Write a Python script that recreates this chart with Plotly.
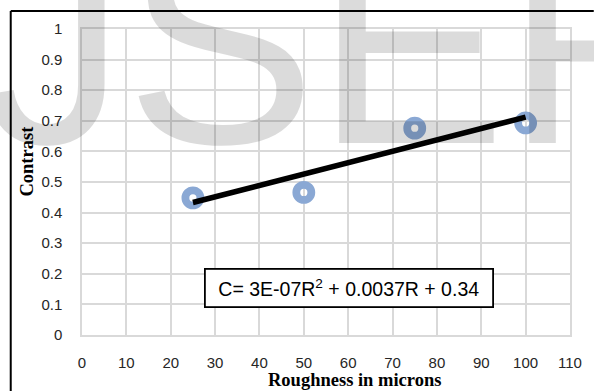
import plotly.graph_objects as go

# ---- data ----
roughness = [25, 50, 75, 100]
contrast = [0.448, 0.466, 0.676, 0.693]
trend_x = [25, 50, 75, 100]
trend_y = [0.433, 0.526, 0.619, 0.712]
x_ticks = [0, 10, 20, 30, 40, 50, 60, 70, 80, 90, 100, 110]
y_ticks = [0, 0.1, 0.2, 0.3, 0.4, 0.5, 0.6, 0.7, 0.8, 0.9, 1]
y_tick_labels = ["0", "0.1", "0.2", "0.3", "0.4", "0.5", "0.6", "0.7", "0.8", "0.9", "1"]
equation = "C= 3E-07R<sup>2</sup> + 0.0037R + 0.34"
x_title = "Roughness in microns"
y_title = "Contrast"
watermark = "IJSER"

W, H = 594, 391
ML, MR, MT, MB = 82, 19, 29, 56
PW, PH = W - ML - MR, H - MT - MB


def px(xpix):
    return (xpix - ML) / PW


def py(ypix):
    return (H - MB - ypix) / PH


fig = go.Figure()
fig.add_trace(go.Scatter(
    x=roughness, y=contrast, mode="markers",
    marker=dict(symbol="circle-open", size=15, color="rgb(138,168,212)",
                line=dict(width=7.8, color="rgb(138,168,212)")),
    showlegend=False, cliponaxis=False))
fig.add_trace(go.Scatter(
    x=trend_x, y=trend_y, mode="lines",
    line=dict(color="black", width=5.5),
    showlegend=False))

tick_font = dict(family="Liberation Sans, Arial, sans-serif", size=15, color="#262626")
fig.update_xaxes(range=[0, 110], tickvals=x_ticks, showgrid=True, gridcolor="#d9d9d9",
                 gridwidth=1.5, zeroline=False, showline=True, mirror=True,
                 linecolor="#d9d9d9", linewidth=1.5, tickfont=tick_font,
                 ticks="", ticklabelstandoff=13)
fig.update_yaxes(range=[0, 1], tickvals=y_ticks, ticktext=y_tick_labels, showgrid=True,
                 gridcolor="#d9d9d9", gridwidth=1.5, zeroline=False, showline=True,
                 mirror=True, linecolor="#d9d9d9", linewidth=1.5, tickfont=tick_font,
                 ticks="", ticklabelstandoff=15)

title_font = dict(family="Liberation Serif, Times New Roman, serif", size=18.5, color="black")
annotations = [
    dict(text="<b>%s</b>" % x_title, xref="paper", yref="paper", x=px(357), y=py(380),
         xanchor="center", yanchor="middle", showarrow=False, font=title_font),
    dict(text="<b>%s</b>" % y_title, xref="paper", yref="paper", x=px(26), y=py(161),
         xanchor="center", yanchor="middle", showarrow=False, font=title_font, textangle=-90),
    dict(text=equation, xref="paper", yref="paper", x=px(352), y=py(288),
         xanchor="center", yanchor="middle", showarrow=False,
         font=dict(family="Liberation Sans, Arial, sans-serif", size=19.5, color="black"),
         bordercolor="black", borderwidth=1.8, bgcolor="white", width=284, height=34),
    dict(text=watermark, xref="paper", yref="paper", x=px(310), y=py(205),
         xanchor="center", yanchor="bottom", showarrow=False,
         font=dict(family="Liberation Sans, Arial, sans-serif", size=285,
                   color="rgba(0,0,0,0.14)")),
]

shapes = [
    dict(type="line", xref="paper", yref="paper", x0=px(10), x1=px(W + 5), y0=py(11), y1=py(11),
         line=dict(color="black", width=2)),
    dict(type="line", xref="paper", yref="paper", x0=px(10), x1=px(10), y0=py(11), y1=py(H + 5),
         line=dict(color="black", width=2)),
]

fig.update_layout(width=W, height=H, margin=dict(l=ML, r=MR, t=MT, b=MB),
                  plot_bgcolor="white", paper_bgcolor="white",
                  annotations=annotations, shapes=shapes)

fig.write_html("out.html")
